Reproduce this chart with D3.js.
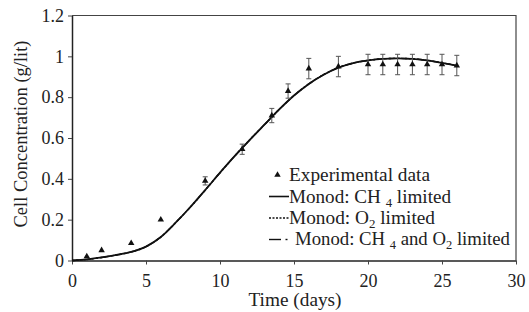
<!DOCTYPE html>
<html>
<head>
<meta charset="utf-8">
<script src="https://cdn.jsdelivr.net/npm/d3@7"></script>
<style>
  body { margin: 0; background: #fff; }
  svg text { font-family: "Liberation Serif", "Times New Roman", serif; fill: #222; }
</style>
</head>
<body>
<div id="chart"></div>
<script>
// experimental data (days, g/lit, error)
var expDays = [1, 2, 4, 6, 9, 11.5, 13.5, 14.6, 16, 18, 20, 21, 22, 23, 24, 25, 26];
var expConc = [0.02, 0.05, 0.085, 0.2, 0.39, 0.545, 0.71, 0.83, 0.94, 0.95, 0.96, 0.96, 0.96, 0.96, 0.96, 0.96, 0.955];
var expErr  = [0, 0, 0, 0, 0.02, 0.025, 0.035, 0.035, 0.05, 0.05, 0.05, 0.05, 0.05, 0.05, 0.05, 0.05, 0.05];

// model curves (they overlap almost exactly)
var modelDays = [0, 1, 2, 3, 4, 5, 6, 7, 8, 9, 10, 11, 12, 13, 14, 15, 16, 17, 18, 19, 20, 21, 22, 23, 24, 25, 26];
var monodCH4  = [0, 0.005, 0.015, 0.027, 0.042, 0.068, 0.115, 0.185, 0.262, 0.345, 0.43, 0.512, 0.59, 0.665, 0.74, 0.808, 0.865, 0.91, 0.945, 0.967, 0.98, 0.988, 0.99, 0.988, 0.98, 0.968, 0.955];
var monodO2   = [0, 0.005, 0.015, 0.027, 0.042, 0.068, 0.115, 0.185, 0.262, 0.345, 0.43, 0.512, 0.59, 0.665, 0.74, 0.808, 0.865, 0.91, 0.945, 0.967, 0.98, 0.988, 0.99, 0.988, 0.98, 0.968, 0.955];
var monodBoth = [0, 0.005, 0.015, 0.027, 0.042, 0.068, 0.115, 0.185, 0.262, 0.345, 0.43, 0.512, 0.59, 0.665, 0.74, 0.808, 0.865, 0.91, 0.945, 0.967, 0.98, 0.988, 0.99, 0.988, 0.98, 0.968, 0.955];

var xTicks = [0, 5, 10, 15, 20, 25, 30];
var yTicks = [0, 0.2, 0.4, 0.6, 0.8, 1, 1.2];

var width = 529, height = 312;
var plotLeft = 72, plotRight = 516, plotTop = 15.5, plotBottom = 260.5;

var svg = d3.select("#chart").append("svg")
  .attr("width", width)
  .attr("height", height);

var x = d3.scaleLinear().domain([0, 30]).range([plotLeft, plotRight]);
var y = d3.scaleLinear().domain([0, 1.2]).range([plotBottom, plotTop]);

// frame (top and right)
svg.append("path")
  .attr("d", "M" + plotLeft + "," + plotTop + "H" + plotRight + "V" + plotBottom)
  .attr("fill", "none")
  .attr("stroke", "#444")
  .attr("stroke-width", 1.2);

// axes
var xAxis = svg.append("g")
  .attr("transform", "translate(0," + plotBottom + ")")
  .call(d3.axisBottom(x).tickValues(xTicks).tickSize(4).tickSizeOuter(0).tickPadding(10).tickFormat(function(d) { return String(d); }));

var yAxis = svg.append("g")
  .attr("transform", "translate(" + plotLeft + ",0)")
  .call(d3.axisLeft(y).tickValues(yTicks).tickSize(4).tickSizeOuter(0).tickPadding(4).tickFormat(function(d) { return String(d); }));

[xAxis, yAxis].forEach(function(g) {
  g.select(".domain").attr("stroke", "#222").attr("stroke-width", 1.5);
  g.selectAll(".tick line").attr("stroke", "#444");
  g.selectAll("text").attr("font-size", 18).attr("font-family", "Liberation Serif").attr("fill", "#333");
});

// axis titles
svg.append("text")
  .attr("x", 248.5)
  .attr("y", 306)
  .attr("font-size", 18)
  .attr("textLength", 93)
  .attr("lengthAdjust", "spacingAndGlyphs")
  .text("Time (days)");

svg.append("text")
  .attr("transform", "translate(27,134) rotate(-90)")
  .attr("text-anchor", "middle")
  .attr("font-size", 18.5)
  .text("Cell Concentration (g/lit)");

// model lines
function series(vals) {
  return modelDays.map(function(d, i) { return { x: d, y: vals[i] }; });
}
var line = d3.line()
  .x(function(d) { return x(d.x); })
  .y(function(d) { return y(d.y); })
  .curve(d3.curveMonotoneX);

var models = [
  { vals: monodCH4, dash: null, w: 1.8 },
  { vals: monodO2, dash: "2,2", w: 1.4 },
  { vals: monodBoth, dash: "7,3,1.5,3", w: 1.4 }
];
models.forEach(function(m) {
  svg.append("path")
    .datum(series(m.vals))
    .attr("d", line)
    .attr("fill", "none")
    .attr("stroke", "#111")
    .attr("stroke-width", m.w)
    .attr("stroke-dasharray", m.dash);
});

// error bars
var exp = expDays.map(function(d, i) { return { x: d, y: expConc[i], e: expErr[i] }; });
var bars = svg.append("g").selectAll("g")
  .data(exp.filter(function(d) { return d.e > 0; }))
  .enter().append("g")
  .attr("stroke", "#555")
  .attr("stroke-width", 1);
bars.append("line")
  .attr("x1", function(d) { return x(d.x); })
  .attr("x2", function(d) { return x(d.x); })
  .attr("y1", function(d) { return y(d.y + d.e); })
  .attr("y2", function(d) { return y(d.y - d.e); });
bars.append("line")
  .attr("x1", function(d) { return x(d.x) - 2.5; })
  .attr("x2", function(d) { return x(d.x) + 2.5; })
  .attr("y1", function(d) { return y(d.y + d.e); })
  .attr("y2", function(d) { return y(d.y + d.e); });
bars.append("line")
  .attr("x1", function(d) { return x(d.x) - 2.5; })
  .attr("x2", function(d) { return x(d.x) + 2.5; })
  .attr("y1", function(d) { return y(d.y - d.e); })
  .attr("y2", function(d) { return y(d.y - d.e); });

// triangle markers
var tri = d3.symbol().type(d3.symbolTriangle).size(18);
svg.append("g").selectAll("path")
  .data(exp)
  .enter().append("path")
  .attr("d", tri)
  .attr("transform", function(d) { return "translate(" + x(d.x) + "," + y(d.y) + ")"; })
  .attr("fill", "#111");

// legend
var lg = svg.append("g");
lg.append("path").attr("d", tri).attr("transform", "translate(277.5,175)").attr("fill", "#111");
lg.append("text").attr("x", 289).attr("y", 181).attr("font-size", 18)
  .attr("textLength", 141).attr("lengthAdjust", "spacingAndGlyphs")
  .text("Experimental data");

lg.append("line").attr("x1", 269).attr("x2", 289).attr("y1", 196.5).attr("y2", 196.5)
  .attr("stroke", "#111").attr("stroke-width", 1.6);
var t2 = lg.append("text").attr("x", 289).attr("y", 202.5).attr("font-size", 18)
  .attr("textLength", 162).attr("lengthAdjust", "spacingAndGlyphs");
t2.append("tspan").text("Monod: CH ");
t2.append("tspan").attr("font-size", 12).attr("dy", 4).text("4");
t2.append("tspan").attr("dy", -4).text(" limited");

lg.append("line").attr("x1", 269).attr("x2", 289).attr("y1", 218).attr("y2", 218)
  .attr("stroke", "#111").attr("stroke-width", 1.3).attr("stroke-dasharray", "2,1.5");
var t3 = lg.append("text").attr("x", 289).attr("y", 224).attr("font-size", 18)
  .attr("textLength", 146).attr("lengthAdjust", "spacingAndGlyphs");
t3.append("tspan").text("Monod: O");
t3.append("tspan").attr("font-size", 12).attr("dy", 4).text("2");
t3.append("tspan").attr("dy", -4).text(" limited");

lg.append("line").attr("x1", 269).attr("x2", 281).attr("y1", 239.5).attr("y2", 239.5)
  .attr("stroke", "#111").attr("stroke-width", 1.4);
lg.append("line").attr("x1", 285.5).attr("x2", 287.5).attr("y1", 239.5).attr("y2", 239.5)
  .attr("stroke", "#111").attr("stroke-width", 1.4);
var t4 = lg.append("text").attr("x", 295).attr("y", 244.5).attr("font-size", 18)
  .attr("textLength", 215).attr("lengthAdjust", "spacingAndGlyphs");
t4.append("tspan").text("Monod: CH ");
t4.append("tspan").attr("font-size", 12).attr("dy", 4).text("4");
t4.append("tspan").attr("dy", -4).text(" and O");
t4.append("tspan").attr("font-size", 12).attr("dy", 4).text("2");
t4.append("tspan").attr("dy", -4).text(" limited");
</script>
</body>
</html>
